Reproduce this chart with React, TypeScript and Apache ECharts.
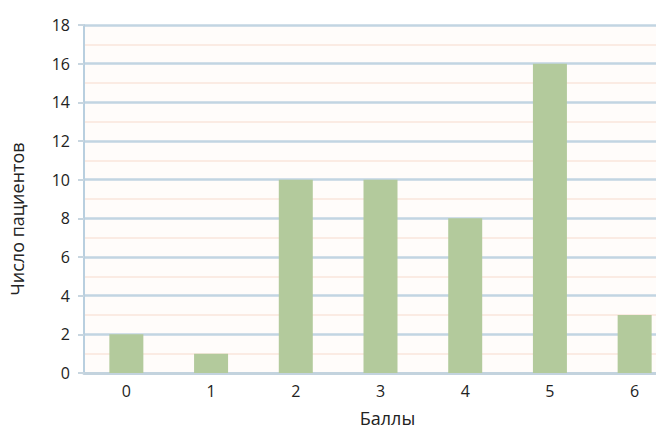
import React, { useEffect, useRef } from "react";
import * as echarts from "echarts";

const categories = ["0", "1", "2", "3", "4", "5", "6"];
const patients = [2, 1, 10, 10, 8, 16, 3];
const xTitle = "Баллы";
const yTitle = "Число пациентов";

export default function App() {
  const ref = useRef<HTMLDivElement>(null);
  useEffect(() => {
    const chart = echarts.init(ref.current!, null, { renderer: "svg" });
    const font = "Open Sans";
    chart.setOption({
      animation: false,
      backgroundColor: "#ffffff",
      textStyle: { fontFamily: font },
      grid: {
        left: 84,
        top: 25,
        right: -21,
        bottom: 58,
        outerBoundsMode: "none",
        containLabel: false,
        backgroundColor: "#fffcfa",
        show: true,
        borderWidth: 0,
      },
      xAxis: {
        type: "category",
        data: categories,
        name: xTitle,
        nameLocation: "middle",
        nameGap: 36,
        nameTextStyle: { fontSize: 18, color: "#222", fontFamily: font, padding: [0, 0, 0, 14] },
        axisLine: { lineStyle: { color: "#c3d3de", width: 3 } },
        axisTick: { show: false },
        axisLabel: { fontSize: 16, color: "#222", margin: 10, fontFamily: font },
      },
      yAxis: {
        type: "value",
        min: 0,
        max: 18,
        interval: 2,
        name: yTitle,
        nameLocation: "middle",
        nameGap: 58,
        nameTextStyle: { fontSize: 18, color: "#222", fontFamily: font, padding: [0, 40, 0, 0] },
        axisLine: { show: true, lineStyle: { color: "#b9cfdf", width: 2 } },
        axisTick: { show: true, length: 6, lineStyle: { color: "#c8d6e0", width: 2 } },
        axisLabel: { fontSize: 16, color: "#222", margin: 14, fontFamily: font },
        splitLine: { lineStyle: { color: "#c2d5e2", width: 2.5 } },
        minorTick: { show: false, splitNumber: 2 },
        minorSplitLine: { show: true, lineStyle: { color: "#fbebe3", width: 2 } },
      },
      series: [
        {
          type: "bar",
          data: patients,
          barWidth: 34,
          itemStyle: { color: "#b3ca9c" },
        },
      ],
    });
    return () => chart.dispose();
  }, []);
  return (
    <div
      ref={ref}
      style={{ position: "fixed", left: 0, top: 0, width: 656, height: 431, overflow: "hidden" }}
    />
  );
}
